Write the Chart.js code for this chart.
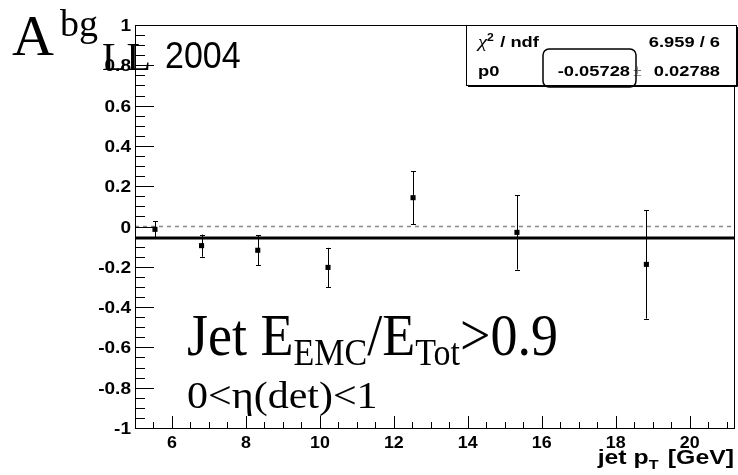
<!DOCTYPE html>
<html>
<head>
<meta charset="utf-8">
<script src="https://cdn.jsdelivr.net/npm/chart.js@4.4.1/dist/chart.umd.min.js"></script>
<style>
  html, body { margin: 0; padding: 0; background: #fff; }
  canvas { display: block; }
</style>
</head>
<body>
<canvas id="asymChart" width="738" height="475"></canvas>
<script>
// jet pT bins and background asymmetry with errors
const jetPt = [5.54, 6.80, 8.32, 10.22, 12.52, 15.33, 18.83];
const asymBg = [-0.014, -0.095, -0.118, -0.203, 0.143, -0.029, -0.188];
const asymErr = [0.040, 0.055, 0.074, 0.097, 0.131, 0.185, 0.269];

// constant fit result
const fitP0 = -0.05728;
const fitP0Err = 0.02788;
const fitChi2 = "6.959 / 6";

// axis range and ticks
const xRange = [5, 21.2];
const yRange = [-1, 1];
const xMajorTicks = [6, 8, 10, 12, 14, 16, 18, 20];
const yMajorTicks = [-1, -0.8, -0.6, -0.4, -0.2, 0, 0.2, 0.4, 0.6, 0.8, 1];
const xMinorStep = 0.5;
const yMinorStep = 0.05;

const SANS = '"Liberation Sans", Arial, sans-serif';
const SERIF = '"Liberation Serif", "Times New Roman", serif';

function stepTicks(lo, hi, step) {
  const out = [];
  const n = Math.round((hi - lo) / step);
  for (let i = 0; i <= n; i++) {
    const v = Math.round((lo + i * step) * 1000) / 1000;
    if (v <= hi + 1e-9) out.push(v);
  }
  return out;
}

function isMajor(list, v) {
  return list.some(m => Math.abs(m - v) < 1e-6);
}

function fmtTick(v) {
  return String(Math.round(v * 10) / 10);
}

// width of a run of text pieces (unscaled)
function richWidth(ctx, parts) {
  let w = 0;
  parts.forEach(p => { ctx.font = p.font; w += ctx.measureText(p.t).width + (p.gap || 0); });
  return w;
}

// draw a run of text pieces, each with its own font and baseline shift,
// stretched by sx / sy around the anchor point
function drawText(ctx, x, y, parts, opt) {
  const o = Object.assign({ sx: 1, sy: 1, align: 'left', color: '#000' }, opt || {});
  const w = richWidth(ctx, parts) * o.sx;
  let x0 = x;
  if (o.align === 'right') x0 = x - w;
  if (o.align === 'center') x0 = x - w / 2;
  ctx.save();
  ctx.translate(x0, y);
  ctx.scale(o.sx, o.sy);
  ctx.textAlign = 'left';
  ctx.textBaseline = 'alphabetic';
  let cx = 0;
  parts.forEach(p => {
    ctx.font = p.font;
    ctx.fillStyle = p.color || o.color;
    ctx.fillText(p.t, cx, (p.dy || 0) / o.sy);
    cx += ctx.measureText(p.t).width + (p.gap || 0);
  });
  ctx.restore();
}

// inward tick marks, tick labels and frame, ROOT style
const frameTicks = {
  id: 'frameTicks',
  afterDatasetsDraw(chart) {
    const { ctx, chartArea: a, scales } = chart;
    ctx.save();
    ctx.strokeStyle = '#000';
    ctx.lineWidth = 1;
    ctx.beginPath();
    stepTicks(yRange[0], yRange[1], yMinorStep).forEach(v => {
      const py = Math.round(scales.y.getPixelForValue(v)) + 0.5;
      const len = isMajor(yMajorTicks, v) ? 19 : 10;
      ctx.moveTo(a.left, py);
      ctx.lineTo(a.left + len, py);
    });
    stepTicks(xRange[0], 21, xMinorStep).forEach(v => {
      const px = Math.round(scales.x.getPixelForValue(v)) + 0.5;
      const len = isMajor(xMajorTicks, v) ? 12 : 6;
      ctx.moveTo(px, a.bottom);
      ctx.lineTo(px, a.bottom - len);
    });
    ctx.stroke();
    ctx.strokeRect(Math.round(a.left) + 0.5, Math.round(a.top) + 0.5,
      Math.round(a.right - a.left), Math.round(a.bottom - a.top));

    const tickFont = 'bold 17px ' + SANS;
    yMajorTicks.forEach(v => {
      const py = scales.y.getPixelForValue(v);
      drawText(ctx, a.left - 4, py + 6, [{ t: fmtTick(v), font: tickFont }], { align: 'right', sx: 1.12 });
    });
    xMajorTicks.forEach(v => {
      const px = scales.x.getPixelForValue(v);
      drawText(ctx, px, a.bottom + 20, [{ t: fmtTick(v), font: tickFont }], { align: 'center', sx: 1.05 });
    });
    ctx.restore();
  }
};

// vertical error bars with small end caps
const errorBars = {
  id: 'errorBars',
  beforeDatasetsDraw(chart) {
    const { ctx, scales } = chart;
    ctx.save();
    ctx.strokeStyle = '#000';
    ctx.lineWidth = 1;
    ctx.beginPath();
    jetPt.forEach((x, i) => {
      const px = Math.round(scales.x.getPixelForValue(x)) + 0.5;
      const top = scales.y.getPixelForValue(asymBg[i] + asymErr[i]);
      const bot = scales.y.getPixelForValue(asymBg[i] - asymErr[i]);
      ctx.moveTo(px, top); ctx.lineTo(px, bot);
      ctx.moveTo(px - 2.5, Math.round(top) + 0.5); ctx.lineTo(px + 2.5, Math.round(top) + 0.5);
      ctx.moveTo(px - 2.5, Math.round(bot) + 0.5); ctx.lineTo(px + 2.5, Math.round(bot) + 0.5);
    });
    ctx.stroke();
    ctx.restore();
  }
};

// stats box, axis title and plot labels
const annotations = {
  id: 'annotations',
  afterDraw(chart) {
    const { ctx } = chart;
    ctx.save();

    // stats box
    const bx = 466, by = 25, bw = 270, bh = 60;
    ctx.fillStyle = '#fff';
    ctx.fillRect(bx, by, bw, bh);
    ctx.strokeStyle = '#000';
    ctx.lineWidth = 1;
    ctx.strokeRect(bx + 0.5, by + 0.5, bw, bh);
    ctx.beginPath();
    ctx.moveTo(bx + 2, by + bh + 1.5); ctx.lineTo(bx + bw + 1.5, by + bh + 1.5);
    ctx.lineTo(bx + bw + 1.5, by + 2);
    ctx.stroke();

    const bold15 = 'bold 15px ' + SANS;
    const st = { sx: 1.22 };
    drawText(ctx, 478, 47, [
      { t: '\u03c7', font: 'italic 17px ' + SERIF },
      { t: '2', font: 'bold 10px ' + SANS, dy: -6, gap: 1 },
      { t: ' / ndf', font: bold15 }
    ], st);
    drawText(ctx, 720, 47, [{ t: fitChi2, font: bold15 }], Object.assign({ align: 'right' }, st));
    drawText(ctx, 478, 76, [{ t: 'p0', font: bold15 }], st);
    drawText(ctx, 630, 76, [{ t: fitP0.toFixed(5), font: bold15 }], Object.assign({ align: 'right' }, st));
    drawText(ctx, 633, 76, [{ t: '\u00b1', font: '16px ' + SERIF, color: '#777' }]);
    drawText(ctx, 720, 76, [{ t: fitP0Err.toFixed(5), font: bold15 }], Object.assign({ align: 'right' }, st));

    // rounded frame around the fitted value
    ctx.strokeStyle = '#000';
    ctx.lineWidth = 1.5;
    ctx.beginPath();
    ctx.roundRect(543, 49, 93, 38, 6);
    ctx.stroke();

    // x axis title
    drawText(ctx, 734, 464, [
      { t: 'jet p', font: 'bold 20px ' + SANS },
      { t: 'T', font: 'bold 13px ' + SANS, dy: 5, gap: 2 },
      { t: ' [GeV]', font: 'bold 20px ' + SANS }
    ], { align: 'right', sx: 1.24 });

    // A_LL^bg 2004
    drawText(ctx, 12, 55, [{ t: 'A', font: '58px ' + SERIF }]);
    drawText(ctx, 60, 36, [{ t: 'bg', font: '38px ' + SERIF }]);
    drawText(ctx, 102, 70, [{ t: 'LL', font: '40px ' + SERIF }]);
    drawText(ctx, 165, 68, [{ t: '2004', font: '34px ' + SANS }], { sy: 1.1 });

    // cut labels
    const big = '54px ' + SERIF, sub = '34px ' + SERIF;
    drawText(ctx, 187, 355, [
      { t: 'Jet E', font: big },
      { t: 'EMC', font: sub, dy: 10 },
      { t: '/E', font: big },
      { t: 'Tot', font: sub, dy: 10 },
      { t: '>0.9', font: big }
    ], { sy: 1.1 });
    drawText(ctx, 187, 408, [{ t: '0<\u03b7(det)<1', font: '42px ' + SERIF }], { sy: 0.92 });
    ctx.restore();
  }
};

new Chart(document.getElementById('asymChart'), {
  data: {
    datasets: [
      {
        type: 'line',
        data: [{ x: xRange[0], y: 0 }, { x: xRange[1], y: 0 }],
        borderColor: '#888',
        borderWidth: 1.5,
        borderDash: [4, 4],
        pointRadius: 0,
        order: 3
      },
      {
        type: 'line',
        data: [{ x: xRange[0], y: fitP0 }, { x: xRange[1], y: fitP0 }],
        borderColor: '#000',
        borderWidth: 3,
        pointRadius: 0,
        order: 2
      },
      {
        type: 'scatter',
        data: jetPt.map((x, i) => ({ x: x, y: asymBg[i] })),
        pointStyle: 'rect',
        pointRadius: 3.6,
        backgroundColor: '#000',
        borderColor: '#000',
        borderWidth: 0,
        order: 1
      }
    ]
  },
  options: {
    responsive: false,
    devicePixelRatio: 1,
    animation: false,
    layout: { padding: { top: 25, right: 4, left: 0, bottom: 0 } },
    plugins: { legend: { display: false }, tooltip: { enabled: false } },
    scales: {
      x: {
        type: 'linear',
        min: xRange[0],
        max: xRange[1],
        afterFit: s => { s.height = 47; },
        grid: { display: false, drawTicks: false },
        border: { display: false },
        ticks: { display: false }
      },
      y: {
        type: 'linear',
        min: yRange[0],
        max: yRange[1],
        afterFit: s => { s.width = 135; },
        grid: { display: false, drawTicks: false },
        border: { display: false },
        ticks: { display: false }
      }
    }
  },
  plugins: [errorBars, frameTicks, annotations]
});
</script>
</body>
</html>
